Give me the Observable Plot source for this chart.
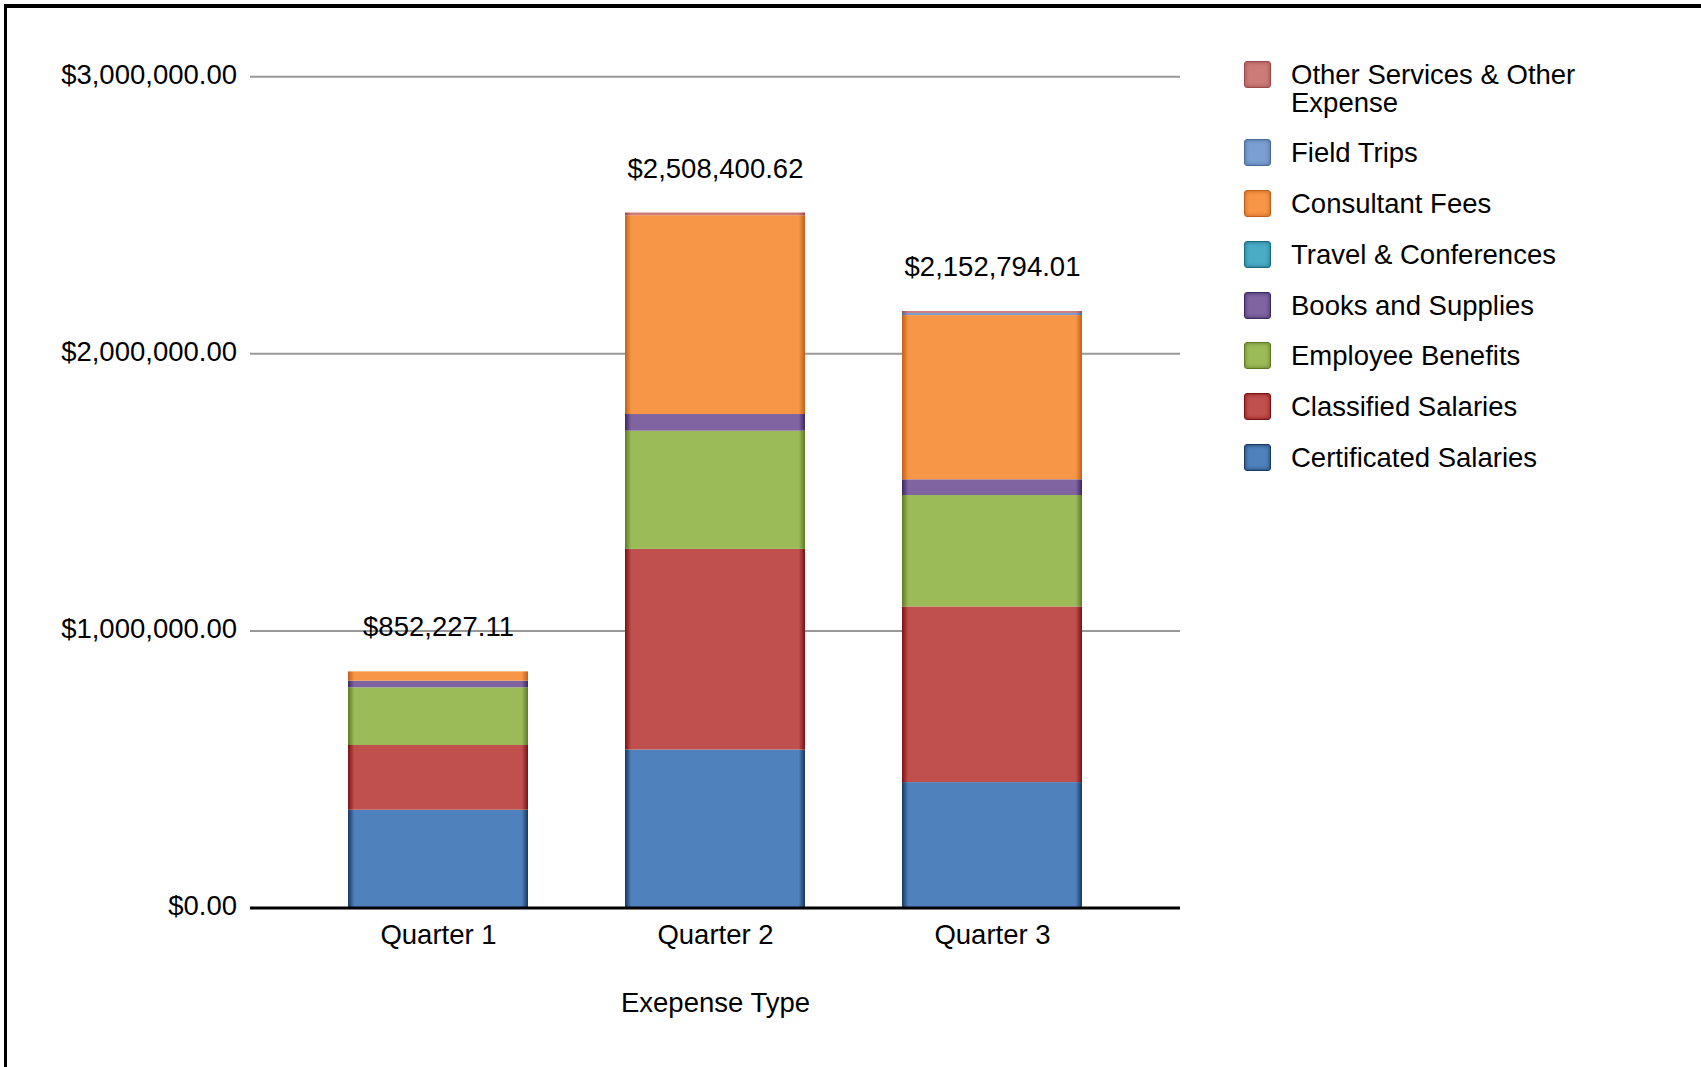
<!DOCTYPE html>
<html><head><meta charset="utf-8">
<script src="https://cdn.jsdelivr.net/npm/d3@7"></script>
<script src="https://cdn.jsdelivr.net/npm/@observablehq/plot@0.6"></script>
<style>
html,body{margin:0;padding:0;background:#fff;overflow:hidden;}
#wrap{position:relative;width:1701px;height:1067px;font-family:"Liberation Sans",Arial,sans-serif;}
#frame{position:absolute;left:4px;top:4px;width:1800px;height:1200px;border-top:4px solid #000;border-left:3px solid #000;pointer-events:none;}
#legend{position:absolute;left:1244px;top:61px;}
.item{display:flex;align-items:flex-start;margin-bottom:23.3px;}
.sw{width:25px;height:25px;border-radius:3px;border:1px solid;flex:none;margin-right:20px;margin-top:0px;}
.lab{font-size:27.5px;line-height:27.5px;width:310px;color:#000;}
</style></head><body>
<div id="wrap"><div id="chart"></div><div id="legend"></div><div id="frame"></div></div>
<script>
// ---- data ----
const quarters = ["Quarter 1", "Quarter 2", "Quarter 3"];
const series = ["Certificated Salaries", "Classified Salaries", "Employee Benefits", "Books and Supplies",
  "Travel & Conferences", "Consultant Fees", "Field Trips", "Other Services & Other Expense"];
const certificatedSalaries = [353000, 570000, 452600];
const classifiedSalaries   = [233500, 724300, 634100];
const employeeBenefits     = [208200, 426600, 402100];
const booksAndSupplies     = [23900, 60200, 56700];
const travelConferences    = [0, 0, 0];
const consultantFees       = [33627.11, 717500, 592800];
const fieldTrips           = [0, 0, 7500];
const otherServices        = [0, 9800.62, 6994.01];
const yTicks = [0, 1000000, 2000000, 3000000];
const xLabel = "Exepense Type";
const baseColors = ["#4F81BD", "#C0504D", "#9BBB59", "#8064A2", "#4BACC6", "#F79646", "#7B9FD0", "#CD7B79"];
const edgeColors = ["#17375E", "#7B1113", "#5F7A23", "#3A2860", "#1B6B80", "#C0601A", "#4A6C9B", "#9A4A48"];

const valuesBySeries = [certificatedSalaries, classifiedSalaries, employeeBenefits, booksAndSupplies,
  travelConferences, consultantFees, fieldTrips, otherServices];
const rows = [];
series.forEach((s, i) => quarters.forEach((q, j) => rows.push({quarter: q, series: s, value: valuesBySeries[i][j]})));
const totals = quarters.map((q, j) => ({quarter: q, total: d3.sum(valuesBySeries, v => v[j])}));
const fmt = d3.format("$,.2f");
const font = '"Liberation Sans", Arial, sans-serif';
const fs = 27.5;

const plot = Plot.plot({
  width: 1701, height: 1067,
  marginLeft: 250, marginRight: 521, marginTop: 76.3, marginBottom: 159.5,
  x: {domain: quarters, padding: 0.35},
  y: {domain: [0, 3000000]},
  color: {domain: series, range: series.map((s, i) => `url(#grad${i})`)},
  style: {fontFamily: font, fontSize: fs + "px", color: "#000", background: "#fff", overflow: "visible"},
  marks: [
    Plot.gridY(yTicks, {stroke: "#999", strokeOpacity: 1, strokeWidth: 2}),
    Plot.barY(rows, Plot.stackY({order: series}, {x: "quarter", y: "value", fill: "series", inset: 0})),
    Plot.ruleY([0], {stroke: "#000", strokeWidth: 3}),
    Plot.axisY(yTicks, {tickSize: 0, tickPadding: 13.5, tickFormat: fmt, fontSize: fs, dy: -1.5, label: null}),
    Plot.axisX({tickSize: 0, tickPadding: 16, fontSize: fs, label: xLabel, labelAnchor: "center", labelOffset: 103.5}),
    Plot.text(totals, {x: "quarter", y: "total", text: d => fmt(d.total), dy: -35.5, lineAnchor: "bottom", fontSize: fs, fill: "#000"})
  ]
});

// gradients for the bevelled bar look
const NS = "http://www.w3.org/2000/svg";
const defs = document.createElementNS(NS, "defs");
series.forEach((s, i) => {
  const g = document.createElementNS(NS, "linearGradient");
  g.setAttribute("id", `grad${i}`);
  g.setAttribute("x1", "0"); g.setAttribute("y1", "0"); g.setAttribute("x2", "1"); g.setAttribute("y2", "0");
  [[0, edgeColors[i]], [0.035, baseColors[i]], [0.965, baseColors[i]], [1, edgeColors[i]]].forEach(([o, c]) => {
    const st = document.createElementNS(NS, "stop");
    st.setAttribute("offset", o); st.setAttribute("stop-color", c);
    g.appendChild(st);
  });
  defs.appendChild(g);
});
plot.insertBefore(defs, plot.firstChild);
document.getElementById("chart").appendChild(plot);

// legend (top item = top of stack)
const legend = document.getElementById("legend");
series.map((s, i) => i).reverse().forEach(i => {
  const item = document.createElement("div");
  item.className = "item";
  const sw = document.createElement("div");
  sw.className = "sw";
  sw.style.background = baseColors[i];
  sw.style.borderColor = edgeColors[i];
  sw.style.boxShadow = `inset 0 0 4px ${edgeColors[i]}`;
  const lab = document.createElement("div");
  lab.className = "lab";
  lab.textContent = series[i];
  item.appendChild(sw); item.appendChild(lab);
  legend.appendChild(item);
});
</script>
</body></html>
